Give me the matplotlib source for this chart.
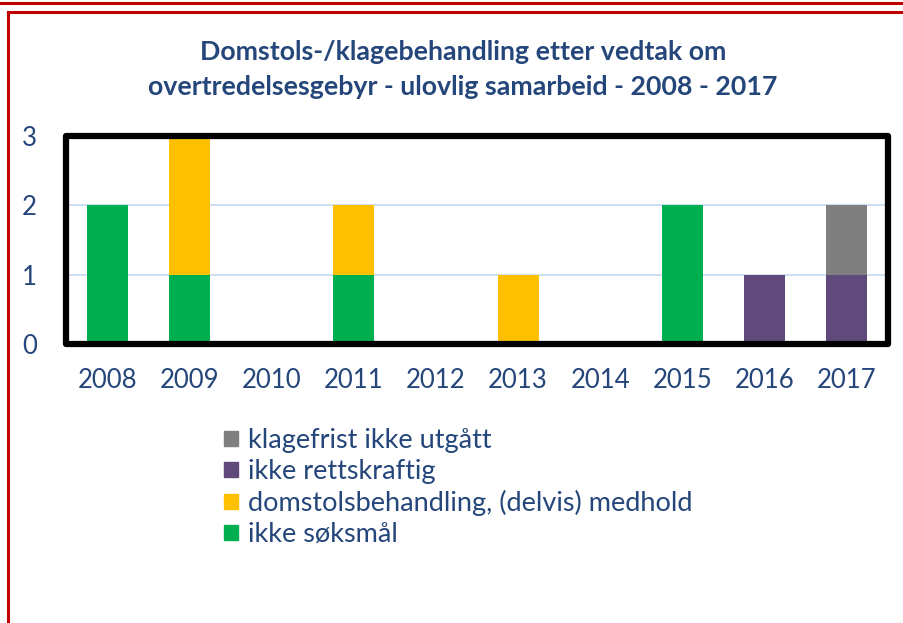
import numpy as np
import matplotlib.pyplot as plt
from matplotlib.patches import Patch, Rectangle
from matplotlib.lines import Line2D

plt.rcParams['font.family'] = ['Lato', 'DejaVu Sans']

years = ['2008', '2009', '2010', '2011', '2012', '2013', '2014', '2015', '2016', '2017']
ikke_soksmal = [2, 1, 0, 1, 0, 0, 0, 2, 0, 0]
domstol_medhold = [0, 2, 0, 1, 0, 1, 0, 0, 0, 0]
ikke_rettskraftig = [0, 0, 0, 0, 0, 0, 0, 0, 1, 1]
klagefrist = [0, 0, 0, 0, 0, 0, 0, 0, 0, 1]

series = [
    ("ikke søksmål", ikke_soksmal, '#00b050'),
    ("domstolsbehandling, (delvis) medhold", domstol_medhold, '#ffc000'),
    ("ikke rettskraftig", ikke_rettskraftig, '#604a7b'),
    ("klagefrist ikke utgått", klagefrist, '#7f7f7f'),
]

text_col = '#24467a'
W, H = 904, 623

fig = plt.figure(figsize=(W / 100, H / 100), dpi=100)

# red frames around the picture
red = '#c00000'
fig.add_artist(Line2D([0, 1], [1 - 3 / H, 1 - 3 / H], color=red, lw=2.2))
fig.add_artist(Line2D([8 / W, 1], [1 - 12 / H, 1 - 12 / H], color=red, lw=2.2))
fig.add_artist(Line2D([8 / W, 8 / W], [0, 1 - 12 / H], color=red, lw=2.2))

ax = fig.add_axes([66 / W, 1 - 344 / H, 822 / W, 208 / H])

x = np.arange(len(years))
bottom = np.zeros(len(years))
for name, vals, col in series:
    ax.bar(x, vals, width=0.5, bottom=bottom, color=col, zorder=3)
    bottom += np.array(vals)

ax.set_xlim(-0.5, len(years) - 0.5)
ax.set_ylim(0, 3)
ax.set_yticks([0, 1, 2, 3])
ax.set_xticks(x)
ax.set_xticklabels(years)
ax.grid(axis='y', color='#c6d9f1', lw=1.2, zorder=0)
ax.tick_params(length=0, labelsize=18.5, colors=text_col)
ax.tick_params(axis='y', pad=21)
ax.tick_params(axis='x', pad=17)
for s in ax.spines.values():
    s.set_visible(False)

# thick black border with rounded corners
ax.add_patch(Rectangle((0, 0), 1, 1, transform=ax.transAxes, fill=False,
                       ec='black', lw=4.5, joinstyle='round', clip_on=False, zorder=5))

fig.text(0.512, 1 - 52 / H, "Domstols-/klagebehandling etter vedtak om",
         ha='center', va='center', fontsize=19.3, fontweight='bold', color=text_col)
fig.text(0.512, 1 - 87 / H, "overtredelsesgebyr - ulovlig samarbeid - 2008 - 2017",
         ha='center', va='center', fontsize=19.3, fontweight='bold', color=text_col)

handles = [Patch(color=col, label=name) for name, vals, col in series[::-1]]
leg = fig.legend(handles=handles, loc='upper left',
                 bbox_to_anchor=(224 / W, 1 - 428 / H), frameon=False,
                 fontsize=19.5, handlelength=0.5, handleheight=0.5,
                 handletextpad=0.37, labelspacing=0.22, borderpad=0, borderaxespad=0)
for t in leg.get_texts():
    t.set_color(text_col)

fig.savefig('out.png', dpi=100)
